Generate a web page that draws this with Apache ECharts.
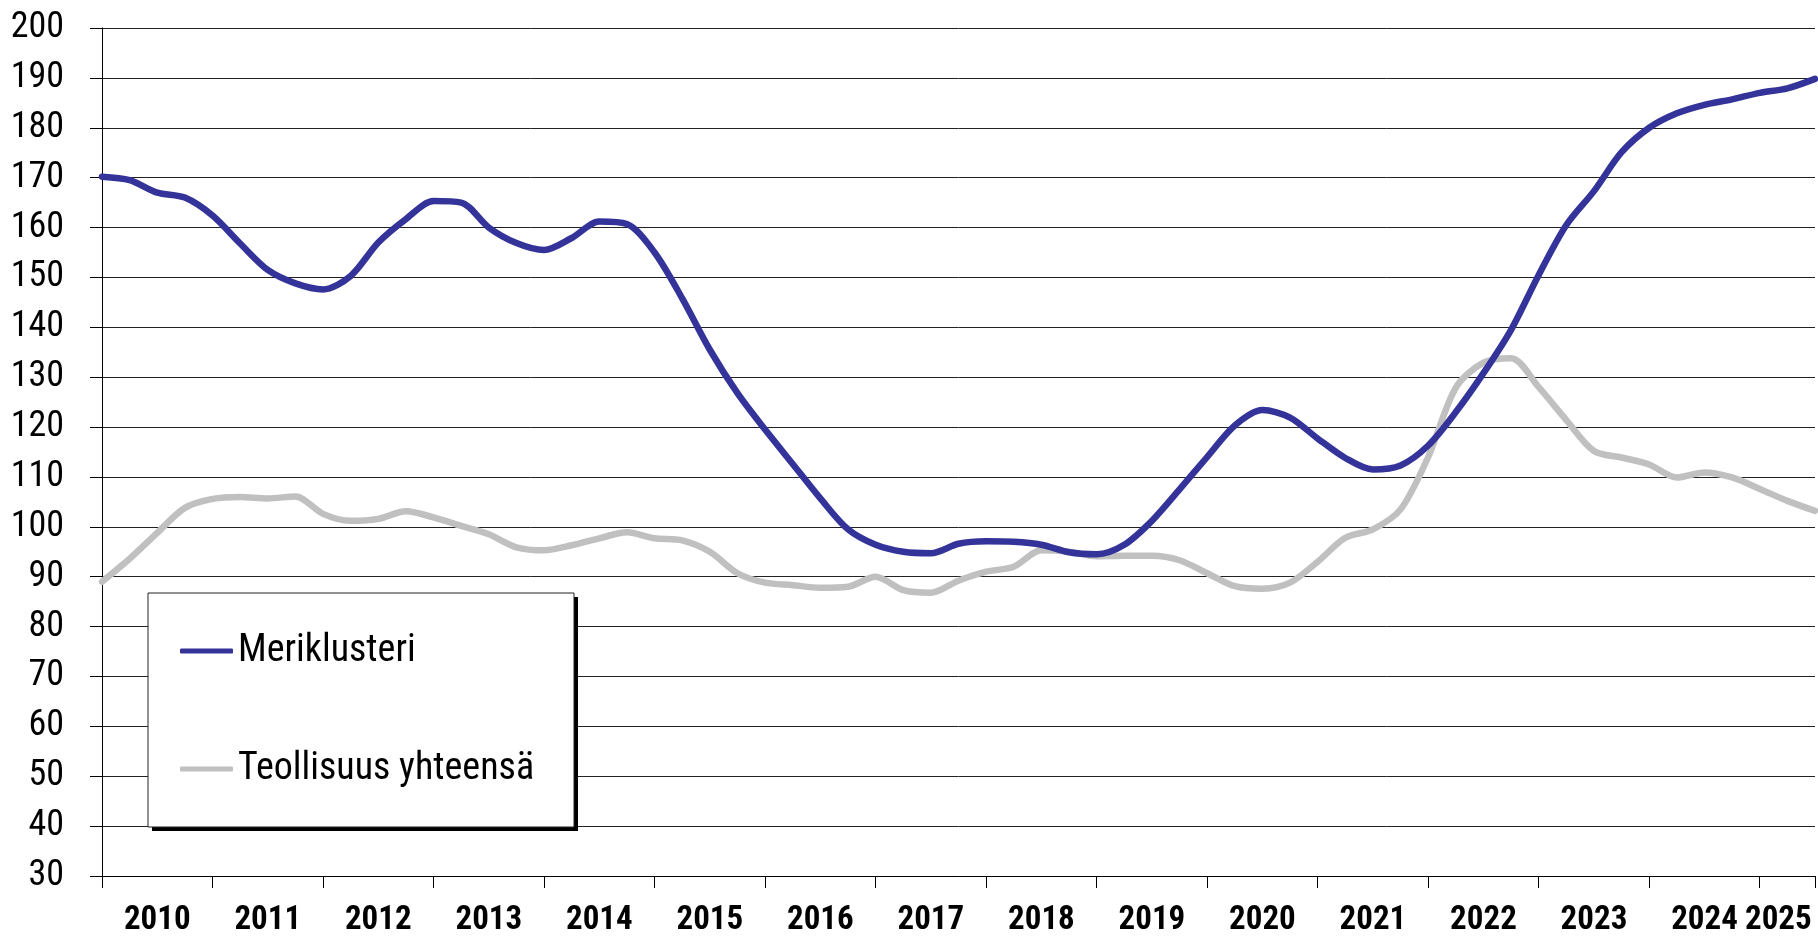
<!DOCTYPE html>
<html>
<head>
<meta charset="utf-8">
<script src="https://cdn.jsdelivr.net/npm/echarts@6/dist/echarts.min.js"></script>
<style>
html,body{margin:0;padding:0;background:#fff;}
#chart{width:1818px;height:937px;}
</style>
</head>
<body>
<div id="chart"></div>
<script>
// Quarterly observation dates (YYYY-MM)
const dates = [
  '2010-01','2010-04','2010-07','2010-10',
  '2011-01','2011-04','2011-07','2011-10',
  '2012-01','2012-04','2012-07','2012-10',
  '2013-01','2013-04','2013-07','2013-10',
  '2014-01','2014-04','2014-07','2014-10',
  '2015-01','2015-04','2015-07','2015-10',
  '2016-01','2016-04','2016-07','2016-10',
  '2017-01','2017-04','2017-07','2017-10',
  '2018-01','2018-04','2018-07','2018-10',
  '2019-01','2019-04','2019-07','2019-10',
  '2020-01','2020-04','2020-07','2020-10',
  '2021-01','2021-04','2021-07','2021-10',
  '2022-01','2022-04','2022-07','2022-10',
  '2023-01','2023-04','2023-07','2023-10',
  '2024-01','2024-04','2024-07','2024-10',
  '2025-01','2025-04','2025-07'
];
const meriklusteri = [
  170.2,169.5,167.0,166.0,
  162.4,156.8,151.5,148.8,
  147.6,150.3,157.0,161.7,
  165.3,165.0,160.0,156.9,
  155.5,157.9,161.2,160.7,
  155.0,145.8,135.5,126.8,
  119.5,112.6,105.7,99.5,
  96.4,95.0,94.7,96.6,
  97.1,97.0,96.4,94.9,
  94.5,96.4,101.2,107.5,
  114.0,120.3,123.4,121.9,
  117.7,113.8,111.5,112.3,
  116.3,123.0,130.8,139.5,
  150.5,160.5,167.3,175.1,
  180.0,182.9,184.6,185.7,
  187.0,187.9,189.8
];
const teollisuus = [
  89.0,93.6,98.8,103.8,
  105.6,106.0,105.7,106.1,
  102.6,101.2,101.6,103.1,
  101.9,100.2,98.5,95.9,
  95.3,96.3,97.7,98.9,
  97.7,97.3,95.0,90.7,
  88.8,88.3,87.8,88.0,
  90.0,87.3,86.8,89.2,
  91.0,92.0,95.3,95.0,
  94.1,94.2,94.2,93.3,
  90.7,88.1,87.6,88.8,
  93.0,97.8,99.5,103.5,
  114.0,127.9,132.9,133.8,
  128.0,121.4,115.2,113.9,
  112.5,109.9,110.9,109.9,
  107.6,105.2,103.2
];
const yearLabels = ['2010','2011','2012','2013','2014','2015','2016','2017','2018','2019','2020','2021','2022','2023','2024','2025'];
const seriesNames = ['Meriklusteri','Teollisuus yhteensä'];

function toYear(d){ const p=d.split('-'); return (+p[0]) + (+p[1]-1)/12; }
function pairs(vals){ return dates.map((d,i)=>[toYear(d), vals[i]]); }

const NARROW = '"Roboto Condensed","Liberation Sans",Arial,sans-serif';

const chart = echarts.init(document.getElementById('chart'), null, {renderer:'canvas'});
chart.setOption({
  animation:false,
  backgroundColor:'#ffffff',
  grid:{left:102,right:0,top:28,bottom:60,containLabel:false},
  graphic:[
    {type:'rect', z:20, silent:true, shape:{x:152, y:597, width:426, height:234}, style:{fill:'#000'}},
    {type:'rect', z:21, silent:true, shape:{x:148, y:593, width:426, height:234}, style:{fill:'#fff', stroke:'#222', lineWidth:1}}
  ],
  legend:{
    z:30,
    orient:'vertical',
    left:148, top:593,
    padding:[38,0,38,32],
    itemWidth:53, itemHeight:5, itemGap:78,
    icon:'roundRect',
    textStyle:{fontFamily:NARROW, fontSize:38, lineHeight:40, color:'#000'},
    data:seriesNames
  },
  xAxis:[{
    type:'value', min:2010, max:2025.5, interval:1, position:'bottom',
    axisLine:{show:true, lineStyle:{color:'#000', width:1}},
    axisTick:{show:true, length:12, inside:false, lineStyle:{color:'#000', width:1}},
    axisLabel:{show:false},
    splitLine:{show:false}
  },{
    type:'value', min:2010, max:2025.5, interval:0.25, position:'bottom', offset:0,
    axisLine:{show:false}, axisTick:{show:false}, splitLine:{show:false},
    axisLabel:{
      show:true, margin:28, showMinLabel:true, showMaxLabel:true,
      fontFamily:NARROW, fontSize:33, fontWeight:'bold', color:'#000',
      formatter:function(v){
        const y = Math.floor(v + 1e-6);
        const f = v - y;
        const idx = y - 2010;
        if (Math.abs(f-0.5) < 1e-6 && y < 2025) return yearLabels[idx];
        if (Math.abs(v-2025.25) < 1e-6) return '{l|' + yearLabels[idx] + '}';
        return '';
      },
      rich:{l:{fontFamily:NARROW, fontSize:33, fontWeight:'bold', color:'#000', padding:[0,18,0,0]}}
    }
  }],
  yAxis:{
    type:'value', min:30, max:200, interval:10,
    axisLine:{show:true, lineStyle:{color:'#000', width:1}},
    axisTick:{show:true, length:12, inside:false, lineStyle:{color:'#000', width:1}},
    axisLabel:{margin:38, fontFamily:NARROW, fontSize:36, color:'#000'},
    splitLine:{show:true, lineStyle:{color:'#222', width:1}}
  },
  series:[{
    name:seriesNames[0], type:'line', xAxisIndex:0, data:pairs(meriklusteri),
    symbol:'none', showSymbol:false, smooth:0.3, clip:false,
    lineStyle:{color:'#333399', width:6.5, cap:'round', join:'round'},
    itemStyle:{color:'#333399'}, z:3
  },{
    name:seriesNames[1], type:'line', xAxisIndex:0, data:pairs(teollisuus),
    symbol:'none', showSymbol:false, smooth:0.3, clip:false,
    lineStyle:{color:'#C0C0C0', width:6.5, cap:'round', join:'round'},
    itemStyle:{color:'#C0C0C0'}, z:2
  }]
});
</script>
</body>
</html>
